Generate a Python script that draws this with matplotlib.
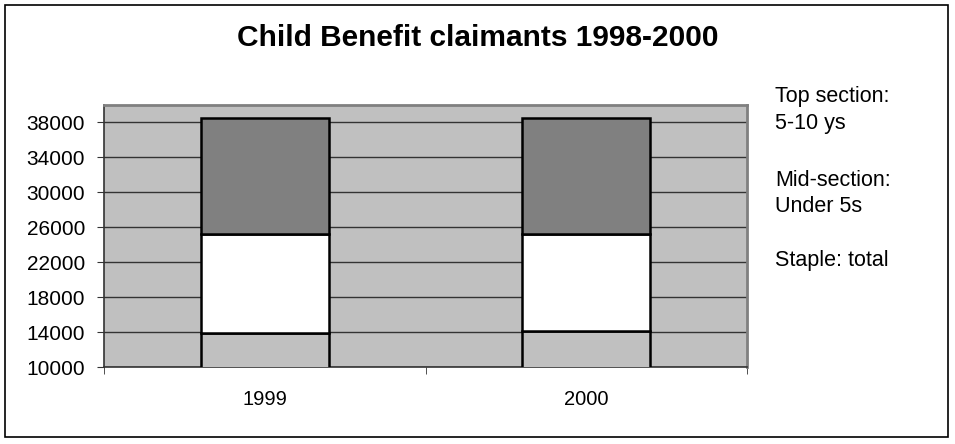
import matplotlib.pyplot as plt
from matplotlib.patches import Rectangle

plt.rcParams['font.family'] = ['Liberation Sans', 'DejaVu Sans']

years = ["1999", "2000"]
# stacked segment heights, stacked from zero (axis starts at 10000)
staple_total = [13900, 14200]
under_5s = [11400, 11100]
ages_5_10 = [13270, 13160]

y_ticks = [10000, 14000, 18000, 22000, 26000, 30000, 34000, 38000]

fig = plt.figure(figsize=(9.55, 4.44), dpi=100)
ax = fig.add_axes([0.1094, 0.1727, 0.6725, 0.5908])
ax.set_facecolor("#c0c0c0")

x = list(range(len(years)))
mid_bottom = staple_total
top_bottom = [a + b for a, b in zip(staple_total, under_5s)]
kw = dict(width=0.4, edgecolor="black", linewidth=1.8, zorder=3)
ax.bar(x, staple_total, color="#c0c0c0", **kw)
ax.bar(x, under_5s, bottom=mid_bottom, color="white", **kw)
ax.bar(x, ages_5_10, bottom=top_bottom, color="#808080", **kw)

ax.set_xlim(-0.5, len(years) - 0.5)
ax.set_ylim(10000, 40000)
ax.set_yticks(y_ticks)
ax.set_yticklabels([str(t) for t in y_ticks], fontsize=15)
ax.yaxis.grid(True, color="#333333", linewidth=1)
ax.set_axisbelow(True)

ax.set_xticks(x)
ax.set_xticklabels(years, fontsize=14.5)
ax.tick_params(axis="x", length=0, pad=16)
ax.set_xticks([-0.5, 0.5, 1.5], minor=True)
ax.tick_params(axis="x", which="minor", length=5, color="#333333")
ax.tick_params(axis="y", length=5, color="#333333", pad=9)

for side in ("top", "right"):
    ax.spines[side].set_color("#808080")
    ax.spines[side].set_linewidth(2)
for side in ("left", "bottom"):
    ax.spines[side].set_color("#333333")
    ax.spines[side].set_linewidth(1.2)

fig.text(0.5, 1 - 46 / 444, "Child Benefit claimants 1998-2000",
         ha="center", va="baseline", fontsize=21.5, fontweight="bold")

# side notes explaining the three bar sections (baseline pixel rows)
notes = [("Top section:", 102), ("5-10 ys", 129), ("Mid-section:", 186),
         ("Under 5s", 212), ("Staple: total", 266)]
for txt, ypix in notes:
    fig.text(775 / 955, 1 - ypix / 444, txt, ha="left", va="baseline", fontsize=15.5)

fig.patches.append(Rectangle((5 / 955, 7 / 444), 943 / 955, 432 / 444,
                             transform=fig.transFigure, fill=False,
                             edgecolor="black", linewidth=1.2))

fig.savefig("out.png", dpi=100)
